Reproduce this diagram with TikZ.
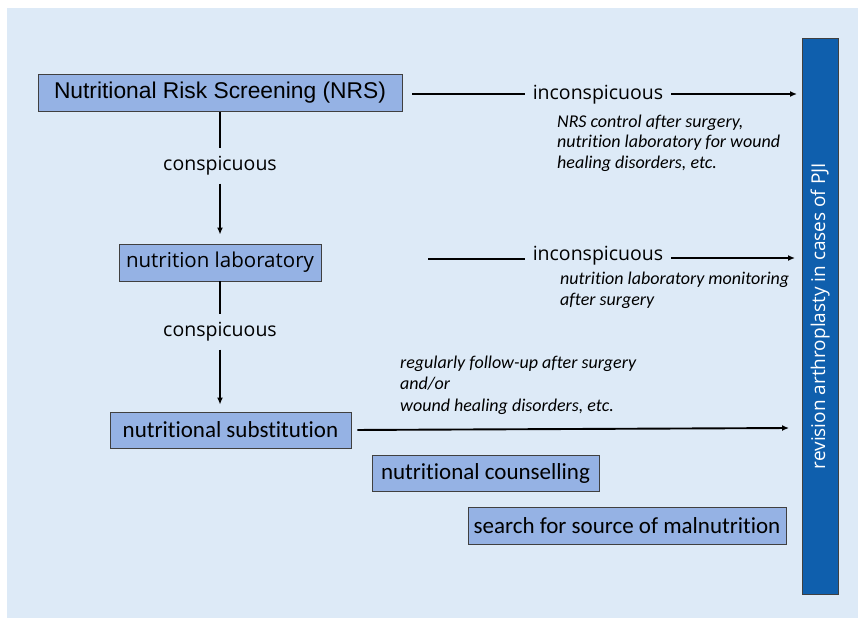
\documentclass[tikz,border=0pt]{standalone}
\usepackage{fontspec}
\setmainfont{Open Sans}
\newfontfamily\arialfont{Liberation Sans}
\newfontfamily\calibrifont[Ligatures=NoCommon]{Carlito}
\usetikzlibrary{arrows.meta}

\definecolor{bgblue}{HTML}{DDEAF7}
\definecolor{boxblue}{HTML}{95B2E4}
\definecolor{barblue}{HTML}{0F5FAD}
\definecolor{edgegray}{HTML}{404040}

\tikzset{
  stepbox/.style={draw=edgegray, fill=boxblue, line width=0.9pt, inner sep=0pt},
  flow/.style={line width=1.9pt},
  flowarrow/.style={line width=1.9pt, -{Latex[length=7pt,width=6pt]}},
  decision/.style={font=\fontsize{19.5}{22}\selectfont, inner sep=8pt},
  remark/.style={font=\calibrifont\itshape\fontsize{18}{20.5}\selectfont, align=left, anchor=north west, inner sep=0pt},
}

\begin{document}
\begin{tikzpicture}[x=1pt, y=-1pt]
  % Rahmen und Hintergrund
  \useasboundingbox (0,0) rectangle (858,618);
  \fill[bgblue] (7,8) rectangle (858,618);

  % Kaesten
  \node[stepbox, minimum width=364pt, minimum height=37pt, font=\arialfont\fontsize{22.8}{25}\selectfont]
    (nrs) at (220,93) {Nutritional Risk Screening (NRS)};
  \node[stepbox, minimum width=202pt, minimum height=37pt, font=\fontsize{20.5}{23}\selectfont]
    (lab) at (220,262.5) {nutrition laboratory};
  \node[stepbox, minimum width=241pt, minimum height=36pt, font=\calibrifont\fontsize{23}{25}\selectfont]
    (subst) at (230.5,430) {nutritional substitution};
  \node[stepbox, minimum width=227pt, minimum height=36pt, font=\calibrifont\fontsize{23}{25}\selectfont]
    (couns) at (485.5,473) {nutritional counselling};
  \node[stepbox, minimum width=318pt, minimum height=37pt, font=\calibrifont\fontsize{23}{25}\selectfont]
    (search) at (627,525.5) {search for source of malnutrition};

  % Balken rechts
  \node[draw=edgegray, fill=barblue, line width=0.9pt, minimum width=556pt, minimum height=36pt,
        rotate=90, text=white, font=\fontsize{19}{21}\selectfont]
    (revision) at (820,316) {revision arthroplasty in cases of PJI};

  % Entscheidungen
  \node[decision] (cons1) at (220,166) {conspicuous};
  \node[decision] (cons2) at (220,332) {conspicuous};
  \node[decision] (incons1) at (598,95) {inconspicuous};
  \node[decision] (incons2) at (598,256) {inconspicuous};

  \coordinate (end1) at (797,94);
  \coordinate (start2) at (428,259);
  \coordinate (end2) at (795,258);
  \coordinate (end3) at (789,428);

  % Pfeile nach unten
  \draw[flow] (nrs.south) -- (cons1.north);
  \draw[flowarrow, shorten >=9pt] (cons1.south) -- (lab.north);
  \draw[flow] (lab.south) -- (cons2.north);
  \draw[flowarrow, shorten >=7pt] (cons2.south) -- (cons2.south |- subst.north);

  % Pfeile nach rechts
  \draw[flow, shorten <=10pt] (nrs.east |- end1) -- (incons1.west |- end1);
  \draw[flowarrow] (incons1.east |- end1) -- (end1);
  \draw[flow] (start2) -- (incons2.west |- start2);
  \draw[flowarrow] (incons2.east |- end2) -- (end2);
  \draw[flowarrow, shorten <=6pt] (subst.east) -- (end3);

  % Hinweise
  \node[remark] (note1) at (557,114.5) {NRS control after surgery,\\nutrition laboratory for wound\\healing disorders, etc.};
  \node[remark] (note2) at (560,272) {nutrition laboratory monitoring\\after surgery};
  \node[remark, font=\calibrifont\itshape\fontsize{18}{21.5}\selectfont] (note3) at (400,355.5)
    {regularly follow-up after surgery\\and/or\\wound healing disorders, etc.};
\end{tikzpicture}
\end{document}
